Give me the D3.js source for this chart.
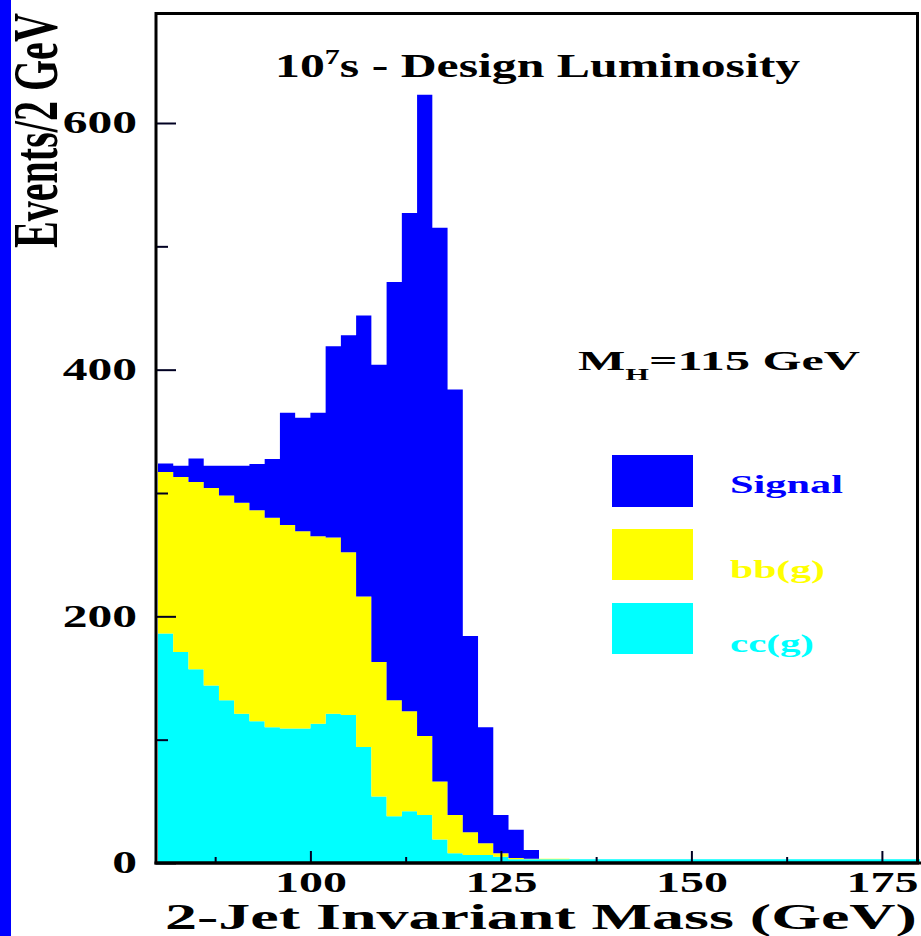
<!DOCTYPE html>
<html>
<head>
<meta charset="utf-8">
<script src="https://cdn.jsdelivr.net/npm/d3@7"></script>
<style>
  html, body { margin: 0; padding: 0; background: #fff; }
  svg { display: block; }
  text { font-family: "Liberation Serif", "Times New Roman", serif; font-weight: bold; }
</style>
</head>
<body>
<svg id="chart" width="921" height="936"></svg>
<script>
// Lower edges of the 2-GeV dijet mass bins (GeV)
const massBins = [80, 82, 84, 86, 88, 90, 92, 94, 96, 98,
                  100, 102, 104, 106, 108, 110, 112, 114, 116, 118,
                  120, 122, 124, 126, 128, 130, 132, 134, 136, 138,
                  140, 142, 144, 146, 148, 150, 152, 154, 156, 158,
                  160, 162, 164, 166, 168, 170, 172, 174, 176, 178];
const binWidth = 2;

// Events per bin, cc(g) background
const ccEvents = [186, 171, 157, 144, 132, 121, 115, 110, 109, 109,
                  113, 121, 120, 94, 54, 38, 42, 39, 19, 8,
                  6.5, 6.5, 5, 3, 3, 3, 3, 3, 3, 3,
                  3, 3, 3, 3, 3, 3, 3, 3, 3, 3,
                  3, 3, 3, 3, 3, 3, 3, 3, 3, 3];
// Events per bin, bb(g) background
const bbEvents = [131, 142, 152, 160, 166, 171, 171, 170, 165, 160,
                  152, 143, 132, 122, 109, 94, 81, 64, 47, 31,
                  18.5, 9.5, 3, 1, 0.5, 0.5, 0.5, 0, 0, 0,
                  0, 0, 0, 0, 0, 0, 0, 0, 0, 0,
                  0, 0, 0, 0, 0, 0, 0, 0, 0, 0];
// Events per bin, Higgs signal (M_H = 115 GeV)
const signalEvents = [7, 9, 19, 18, 24, 30, 37.5, 47.5, 91, 92,
                      100, 155, 176, 228, 241, 339, 404, 520, 449, 345,
                      159, 94, 31, 23, 7, 0, 0, 0, 0, 0,
                      0, 0, 0, 0, 0, 0, 0, 0, 0, 0,
                      0, 0, 0, 0, 0, 0, 0, 0, 0, 0];

const seriesKeys   = ["cc", "bb", "signal"];
const seriesColors = { cc: "#00ffff", bb: "#ffff00", signal: "#0000ff" };
const legendKeys   = ["signal", "bb", "cc"];
const legendLabels = { signal: "Signal", bb: "bb(g)", cc: "cc(g)" };

const yMajorTicks = [0, 200, 400, 600];
const yMinorTicks = [100, 300, 500];
const xMajorTicks = [100, 125, 150, 175];
const xMinorTicks = [87.5, 112.5, 137.5, 162.5];

const titleText = "s - Design Luminosity";
const xTitle = "2-Jet Invariant Mass (GeV)";
const yTitle = "Events/2 GeV";

// ---------------------------------------------------------------
const svg = d3.select("#chart");
const tickColor = "#000022";
const textStretch = 1.6;   // glyphs are drawn wide

const x = d3.scaleLinear().domain([80, 180]).range([158, 920]);
const y = d3.scaleLinear().domain([0, 690]).range([863, 12]);

// blue margin strip
svg.append("rect").attr("x", 0).attr("y", 0).attr("width", 11).attr("height", 936)
   .attr("fill", "#0000ff");

// stacked histogram
const rows = massBins.map((m, i) => ({ mass: m, cc: ccEvents[i], bb: bbEvents[i], signal: signalEvents[i] }));
const last = rows[rows.length - 1];
rows.push(Object.assign({}, last, { mass: last.mass + binWidth }));

const layers = d3.stack().keys(seriesKeys)(rows);
const area = d3.area()
  .curve(d3.curveStepAfter)
  .x(d => x(d.data.mass))
  .y0(d => y(d[0]))
  .y1(d => y(d[1]));

svg.append("g").selectAll("path")
  .data(layers)
  .join("path")
  .attr("d", area)
  .attr("fill", d => seriesColors[d.key]);

// y-axis ticks (pointing into the plot)
const yAxisX = 156;
svg.append("g").attr("transform", `translate(${yAxisX},0)`)
  .call(d3.axisRight(y).tickValues(yMajorTicks).tickSizeInner(20).tickSizeOuter(0).tickFormat(""))
  .call(g => g.select(".domain").remove())
  .call(g => g.selectAll("line").attr("stroke", tickColor).attr("stroke-width", 2));
svg.append("g").attr("transform", `translate(${yAxisX},0)`)
  .call(d3.axisRight(y).tickValues(yMinorTicks).tickSizeInner(12).tickSizeOuter(0).tickFormat(""))
  .call(g => g.select(".domain").remove())
  .call(g => g.selectAll("line").attr("stroke", tickColor).attr("stroke-width", 2));

// y tick labels
svg.append("g").attr("transform", "translate(137,0)")
  .call(d3.axisLeft(y).tickValues(yMajorTicks).tickSize(0).tickPadding(0).tickFormat(d3.format("d")))
  .call(g => g.select(".domain").remove())
  .call(g => g.selectAll("text")
    .attr("x", 0).attr("dy", "0.32em")
    .attr("font-size", 31).attr("fill", "#000")
    .attr("font-family", null)
    .attr("transform", `scale(${textStretch},1)`));

// x-axis ticks (pointing up)
const xAxisY = 863;
svg.append("g").attr("transform", `translate(0,${xAxisY})`)
  .call(d3.axisTop(x).tickValues(xMajorTicks).tickSizeInner(12).tickSizeOuter(0).tickFormat(""))
  .call(g => g.select(".domain").remove())
  .call(g => g.selectAll("line").attr("stroke", tickColor).attr("stroke-width", 2));
svg.append("g").attr("transform", `translate(0,${xAxisY})`)
  .call(d3.axisTop(x).tickValues(xMinorTicks).tickSizeInner(6).tickSizeOuter(0).tickFormat(""))
  .call(g => g.select(".domain").remove())
  .call(g => g.selectAll("line").attr("stroke", tickColor).attr("stroke-width", 2));

// x tick labels
svg.append("g").attr("transform", "translate(0,892)")
  .call(d3.axisBottom(x).tickValues(xMajorTicks).tickSize(0).tickPadding(0).tickFormat(d3.format("d")))
  .call(g => g.select(".domain").remove())
  .call(g => g.selectAll("text")
    .attr("y", 0).attr("dy", 0)
    .attr("font-size", 30).attr("fill", "#000")
    .attr("font-family", null)
    .attr("transform", `scale(${textStretch},1)`));

// frame
svg.append("rect")
  .attr("x", yAxisX).attr("y", 13.5)
  .attr("width", 917.5 - yAxisX).attr("height", xAxisY - 13.5)
  .attr("fill", "none").attr("stroke", "#000").attr("stroke-width", 3);
svg.append("line")
  .attr("x1", yAxisX - 1.5).attr("x2", 921).attr("y1", xAxisY).attr("y2", xAxisY)
  .attr("stroke", "#000").attr("stroke-width", 3);

// stretch a text element so it spans [left, left+width] at the given baseline
function fitWidth(sel, left, baseline, width) {
  const b = sel.node().getBBox();
  const s = width / b.width;
  sel.attr("transform", `translate(${left - b.x * s},${baseline}) scale(${s},1)`);
}

// title
const title = svg.append("text").attr("font-size", 33).attr("fill", "#000");
title.append("tspan").text("10");
title.append("tspan").text("7").attr("font-size", 20).attr("dy", -13);
title.append("tspan").text(titleText).attr("dy", 13);
fitWidth(title, 275, 77, 526);

// Higgs mass annotation
const mh = svg.append("text").attr("font-size", 28).attr("fill", "#000");
mh.append("tspan").text("M");
mh.append("tspan").text("H").attr("font-size", 17).attr("dy", 10);
mh.append("tspan").text("=115 GeV").attr("dy", -10);
fitWidth(mh, 578, 370, 282);

// legend
const legendBoxes = { signal: [455, 52], bb: [529, 51], cc: [603, 51] };
const legendText = { signal: [493, 113], bb: [578, 95], cc: [652, 84] };
legendKeys.forEach(k => {
  svg.append("rect")
    .attr("x", 612).attr("y", legendBoxes[k][0])
    .attr("width", 81).attr("height", legendBoxes[k][1])
    .attr("fill", seriesColors[k]);
  const t = svg.append("text").attr("font-size", 25).attr("fill", seriesColors[k]).text(legendLabels[k]);
  fitWidth(t, 730, legendText[k][0], legendText[k][1]);
});

// axis titles
const xt = svg.append("text").attr("font-size", 35).attr("fill", "#000").text(xTitle);
fitWidth(xt, 165, 929, 752);

const yt = svg.append("text").attr("font-size", 40).attr("fill", "#000").text(yTitle);
const yb = yt.node().getBBox();
yt.attr("transform", `translate(57,248) rotate(-90) scale(${235 / yb.width},1.58)`);
</script>
</body>
</html>
